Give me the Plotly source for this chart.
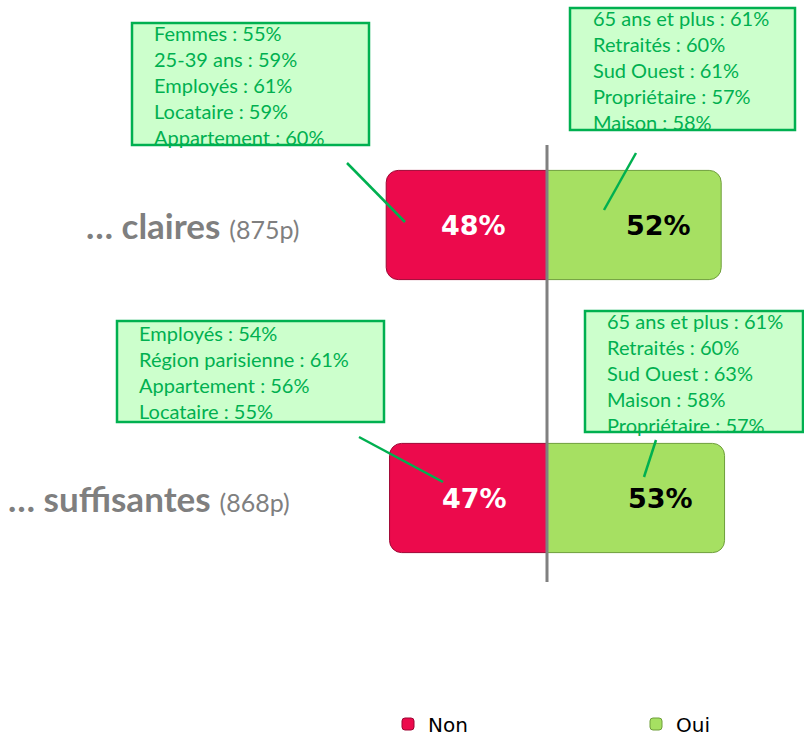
import plotly.graph_objects as go

# ---- data ----
categories = ["… claires", "… suffisantes"]
sample_sizes = ["(875p)", "(868p)"]
non_values = [48, 47]
oui_values = [52, 53]
series_names = ["Non", "Oui"]

callout_non = [
    ["Femmes : 55%", "25-39 ans : 59%", "Employés : 61%", "Locataire : 59%", "Appartement : 60%"],
    ["Employés : 54%", "Région parisienne : 61%", "Appartement : 56%", "Locataire : 55%"],
]
callout_oui = [
    ["65 ans et plus : 61%", "Retraités : 60%", "Sud Ouest : 61%", "Propriétaire : 57%", "Maison : 58%"],
    ["65 ans et plus : 61%", "Retraités : 60%", "Sud Ouest : 63%", "Maison : 58%", "Propriétaire : 57%"],
]

W, H = 804, 736
RED = "#EC0A4C"
GREEN = "#A6E062"
CALLOUT_GREEN = "#00B050"
CALLOUT_FILL = "#CCFFCC"


def px(x):
    return x / W


def py(y):
    return 1 - y / H


fig = go.Figure()
fig.add_trace(go.Bar(
    y=categories, x=[-v for v in non_values], name=series_names[0], orientation="h",
    marker=dict(color=RED, line=dict(color="#9E0533", width=1)), width=0.40,
    hoverinfo="skip",
))
fig.add_trace(go.Bar(
    y=categories, x=oui_values, name=series_names[1], orientation="h",
    marker=dict(color=GREEN, line=dict(color="#6E9E3A", width=1)), width=0.40,
    hoverinfo="skip",
))

annotations = []
# percentage labels in bars
for cat, n, o in zip(categories, non_values, oui_values):
    annotations.append(dict(x=-n * 0.46, y=cat, xref="x", yref="y", text=f"<b>{n}%</b>",
                            showarrow=False, font=dict(family="DejaVu Sans", size=27, color="white")))
    annotations.append(dict(x=o * 0.64, y=cat, xref="x", yref="y", text=f"<b>{o}%</b>",
                            showarrow=False, font=dict(family="DejaVu Sans", size=27, color="black")))

# category labels
label_right = [-73.5, -76]
for cat, s, xr in zip(categories, sample_sizes, label_right):
    annotations.append(dict(x=xr, y=cat, xref="x", yref="y", xanchor="right", yanchor="middle",
                            text=f"<b>{cat}</b> <span style='font-size:25px;font-weight:normal'>{s}</span>",
                            showarrow=False, font=dict(family="Lato", size=35, color="#7F7F7F")))

shapes = []
# callout boxes: (x0, y0, x1, y1, text_left, first_line_center)
boxes = [
    (132, 23, 369, 145, 152, 33, callout_non[0]),
    (570, 8, 795, 130, 591, 18, callout_oui[0]),
    (117, 321, 384, 422, 137, 333, callout_non[1]),
    (585, 311, 803, 432, 605, 321, callout_oui[1]),
]
for x0, y0, x1, y1, tl, fc, lines in boxes:
    shapes.append(dict(type="rect", xref="paper", yref="paper", x0=px(x0), x1=px(x1), y0=py(y0), y1=py(y1),
                       fillcolor=CALLOUT_FILL, line=dict(color=CALLOUT_GREEN, width=2.5), layer="above"))
    for i, t in enumerate(lines):
        annotations.append(dict(x=px(tl), y=py(fc + 26 * i), xref="paper", yref="paper", xanchor="left",
                                yanchor="middle", text=t, showarrow=False,
                                font=dict(family="Lato", size=20, color=CALLOUT_GREEN)))

# leader lines
leaders = [((347, 163), (405, 222)), ((636, 153), (604, 210)),
           ((359, 437), (443, 482)), ((656, 440), (644, 477))]
for (ax, ay), (bx, by) in leaders:
    shapes.append(dict(type="line", xref="paper", yref="paper", x0=px(ax), y0=py(ay), x1=px(bx), y1=py(by),
                       line=dict(color=CALLOUT_GREEN, width=2.5), layer="above"))

# center line
shapes.append(dict(type="line", xref="x", yref="paper", x0=0, x1=0, y0=py(145), y1=py(582),
                   line=dict(color="#808080", width=3), layer="above"))

scale = 3.35
x_left = -547 / scale
x_right = (W - 547) / scale
fig.update_layout(
    width=W, height=H, margin=dict(l=0, r=0, t=0, b=0, pad=0, autoexpand=False),
    paper_bgcolor="white", plot_bgcolor="white",
    barmode="relative", barcornerradius=12,
    xaxis=dict(range=[x_left, x_right], visible=False, fixedrange=True),
    yaxis=dict(range=[1 + (H - 498) / 273, -225 / 273], visible=False, fixedrange=True,
               categoryorder="array", categoryarray=categories),
    showlegend=True,
    legend=dict(orientation="h", x=px(388), y=py(724), xanchor="left", yanchor="middle",
                entrywidth=203, entrywidthmode="pixels", font=dict(family="DejaVu Sans", size=20, color="black"),
                itemwidth=30, tracegroupgap=0, bgcolor="rgba(0,0,0,0)"),
    annotations=annotations, shapes=shapes,
)
fig.write_html("out.html", config={"displayModeBar": False},
               post_script="document.body.style.margin='0';document.body.style.overflow='hidden';")
